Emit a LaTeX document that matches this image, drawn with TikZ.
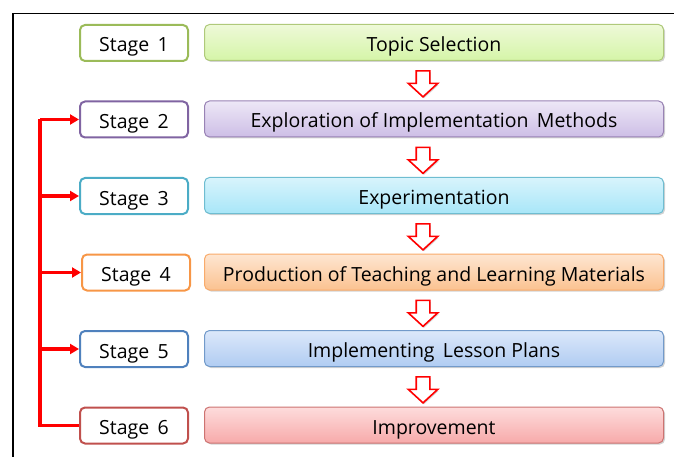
\documentclass[tikz,border=0pt]{standalone}
\usepackage{fontspec}
\setmainfont{Open Sans}
\usetikzlibrary{shadows,arrows.meta,shapes.arrows,calc}
\definecolor{gA}{HTML}{9BBB59}\definecolor{gT}{HTML}{EEF9D8}\definecolor{gB}{HTML}{D5F5A8}
\definecolor{pA}{HTML}{8064A2}\definecolor{pT}{HTML}{EDE7F6}\definecolor{pB}{HTML}{CDBEE6}
\definecolor{cA}{HTML}{4BACC6}\definecolor{cT}{HTML}{D8F4FC}\definecolor{cB}{HTML}{A8E6F8}
\definecolor{oA}{HTML}{F79646}\definecolor{oT}{HTML}{FEE6D2}\definecolor{oB}{HTML}{FBC290}
\definecolor{bA}{HTML}{4F81BD}\definecolor{bT}{HTML}{DCE8FA}\definecolor{bB}{HTML}{B0CCF2}
\definecolor{rA}{HTML}{C0504D}\definecolor{rT}{HTML}{FDDCDC}\definecolor{rB}{HTML}{F7AAAA}
\tikzset{
  txt/.style={font=\fontsize{19.5}{22}\selectfont,text height=18pt,text depth=0pt,inner sep=0pt,minimum height=36pt,anchor=north west,rounded corners=5pt},
  stagebox/.style={txt,draw=#1,line width=2pt,fill=white,minimum width=108pt},
  taskbox/.style n args={3}{txt,draw=#1!80!white,line width=1pt,top color=#2,bottom color=#3,minimum width=459pt,drop shadow={shadow xshift=1.5pt,shadow yshift=-1.5pt,opacity=0.35}},
  downarrow/.style={single arrow,draw=red,line width=1.6pt,fill=white,shape border rotate=270,minimum height=26pt,minimum width=29pt,single arrow head extend=8pt,single arrow tip angle=95,inner sep=6pt,drop shadow={shadow xshift=1pt,shadow yshift=-1.5pt,opacity=0.3}},
  fb/.style={draw=red,line width=3.5pt},
  fba/.style={fb,-{Triangle[length=9pt,width=10pt]}}
}
\begin{document}
\begin{tikzpicture}[x=1pt,y=-1pt]
\useasboundingbox (0,0) rectangle (674,457);
\draw[line width=1.5pt] (13,457) -- (13,13.5) -- (674,13.5);
\node[stagebox=gA] (s1) at (79,24) {Stage\, 1};
\node[stagebox=pA] (s2) at (79,100.5) {Stage\, 2};
\node[stagebox=cA] (s3) at (79,177) {Stage\, 3};
\node[stagebox=oA] (s4) at (81,253.5) {Stage\, 4};
\node[stagebox=bA] (s5) at (79,330) {Stage\, 5};
\node[stagebox=rA] (s6) at (79,406.5) {Stage\, 6};
\node[taskbox={gA}{gT}{gB}] (t1) at (204,24) {Topic Selection};
\node[taskbox={pA}{pT}{pB}] (t2) at (204,100.5) {Exploration of Implementation\, Methods};
\node[taskbox={cA}{cT}{cB}] (t3) at (204,177) {Experimentation};
\node[taskbox={oA}{oT}{oB}] (t4) at (204,253.5) {Production of Teaching and Learning Materials};
\node[taskbox={bA}{bT}{bB}] (t5) at (204,330) {Implementing\, Lesson Plans};
\node[taskbox={rA}{rT}{rB}] (t6) at (204,406.5) {Improvement};
\foreach \a/\b in {1/2,2/3,3/4,4/5,5/6}{
  \node[downarrow] (d\a) at ($(t\a.south)!0.5!(t\b.north)+(-11,0)$) {};
}
\coordinate (top) at (40,0 |- s2.west);
\coordinate (bot) at (40,0 |- s6.west);
\draw[fb,line join=miter] (s6.west) -- (bot) -- (top);
\draw[fba] (top) -- (s2.west);
\draw[fba] (40,0 |- s3.west) -- (s3.west);
\draw[fba] (40,0 |- s4.west) -- (s4.west);
\draw[fba] (40,0 |- s5.west) -- (s5.west);
\end{tikzpicture}
\end{document}
